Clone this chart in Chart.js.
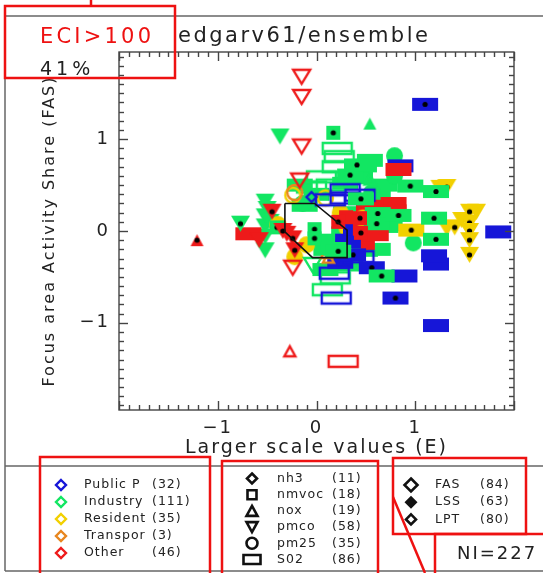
<!DOCTYPE html>
<html>
<head>
<meta charset="utf-8">
<script src="https://cdn.jsdelivr.net/npm/chart.js@4.4.1/dist/chart.umd.min.js"></script>
<style>
  html, body { margin: 0; padding: 0; background: #fff; }
</style>
</head>
<body>
<canvas id="myChart" width="543" height="573"></canvas>
<script>
// axis ranges and labelled ticks
const xRange = [-2, 2];
const yRange = [-1.95, 1.95];
const majorTicks = [-1, 0, 1];

// legend entries
const sectorNames = ['Public P', 'Industry', 'Resident', 'Transpor', 'Other'];
const sectorCounts = [32, 111, 35, 3, 46];
const speciesNames = ['nh3', 'nmvoc', 'nox', 'pmco', 'pm25', 'S02'];
const speciesCounts = [11, 18, 19, 58, 35, 86];
const kindNames = ['FAS', 'LSS', 'LPT'];
const kindCounts = [84, 63, 80];

// outline box drawn on the plot (E, FAS)
const boxLine = [[-0.32, 0.30], [-0.02, 0.30], [0.31, 0.01], [0.31, -0.29], [-0.04, -0.29], [-0.32, -0.01], [-0.32, 0.30]];

// points [E, FAS] per sector / species / kind
const otherPmcoOpen = [[-0.15, 1.68], [-0.15, 1.46], [-0.15, 0.92], [-0.24, -0.40], [-0.17, 0.55]];
const otherNoxOpen = [[-0.27, -1.31]];
const otherSo2Open = [[0.27, -1.42]];
const otherNoxDot = [[-1.21, -0.10]];
const otherPmcoDot = [[-0.45, 0.21], [-0.24, -0.08], [-0.22, -0.21], [-0.34, 0.00]];
const otherPmcoFill = [[-0.58, -0.10], [-0.30, -0.03]];
const otherSo2Fill = [[-0.69, -0.03], [0.83, 0.67], [0.78, 0.30], [0.55, 0.27], [0.50, 0.02], [0.60, -0.04], [0.78, 0.22]];
const otherNmvocDot = [[0.22, 0.10], [0.44, 0.14], [0.45, -0.02]];
const otherNmvocFill = [[0.47, 0.28], [0.30, 0.15], [0.52, -0.13]];

const industryPmcoFill = [[-0.37, 1.03], [-0.52, 0.32], [-0.52, 0.16], [-0.52, 0.05], [-0.52, -0.06], [-0.52, -0.21], [-0.50, 0.24], [-0.47, 0.10]];
const industryPmcoDot = [[-0.77, 0.08]];
const industryPmcoOpen = [[-0.04, -0.37]];
const industrySo2Open = [[0.21, 0.90], [0.23, 0.81], [0.21, 0.70], [0.05, 0.59], [0.15, 0.50], [-0.05, 0.48], [0.19, -0.51], [0.11, -0.64]];
const industrySo2Fill = [[0.29, 0.52], [0.44, 0.58], [0.00, 0.40], [0.30, 0.20], [0.28, -0.02], [0.32, -0.35], [0.62, 0.40], [0.70, 0.05], [0.45, -0.12], [0.10, -0.20], [0.62, -0.20],
  [-0.17, 0.50], [0.54, 0.77], [0.69, 0.50], [0.69, 0.28], [0.74, 0.07], [0.14, -0.10], [0.34, -0.37], [0.09, -0.42], [0.49, -0.21], [-0.12, 0.28]];
const industrySo2Dot = [[0.48, 0.71], [0.34, 0.61], [0.41, 0.72], [0.62, 0.19], [0.61, 0.08], [0.83, 0.17], [0.95, 0.49], [1.21, 0.43], [1.19, 0.14], [1.21, -0.09], [0.66, -0.49], [0.17, -0.19], [0.22, -0.22], [0.45, 0.35]];
const industryNmvocDot = [[0.17, 1.07], [-0.02, 0.02], [-0.02, -0.08], [-0.40, 0.04]];
const industryPm25Fill = [[0.79, 0.82], [0.79, 0.60], [0.98, -0.13], [0.56, 0.42], [-0.14, 0.30]];
const industryNoxFill = [[0.54, 1.17]];
const industryNoxOpen = [[0.54, 0.56]];

const residentPmcoDot = [[1.55, 0.21], [1.55, 0.09], [1.55, 0.00], [1.55, -0.10], [1.55, -0.26], [1.40, 0.04], [1.32, 0.48]];
const residentPmcoFill = [[1.32, 0.03], [1.62, 0.21], [1.25, 0.47], [1.47, 0.12]];
const residentSo2Dot = [[0.96, 0.01]];
const residentPm25Open = [[-0.24, 0.39], [0.09, 0.36], [0.47, 0.14]];
const residentPm25Fill = [[-0.39, 0.07], [-0.10, -0.15], [0.24, 0.20], [0.31, 0.03], [-0.22, -0.28]];

const publicSo2Dot = [[1.10, 1.38], [0.80, -0.73], [0.56, -0.40], [0.37, -0.26]];
const publicSo2Fill = [[0.85, 0.71], [1.84, -0.01], [0.89, -0.49], [1.21, -0.36], [1.19, -0.27], [1.21, -1.03], [0.32, -0.10], [0.40, 0.02], [0.39, -0.12], [0.24, -0.34]];
const publicSo2Open = [[0.20, -0.73], [0.18, -0.46], [0.43, -0.28], [0.29, 0.45], [0.29, 0.36], [0.14, 0.34], [0.44, 0.39]];
const publicNh3Open = [[-0.05, 0.37]];

const transporNoxOpen = [[0.12, -0.29], [0.10, -0.24]];
const transporPm25Open = [[-0.22, 0.42]];

const FONT = 'DejaVu Sans';
const sectorColors = ['#1616d8', '#12e662', '#f2d000', '#e8861e', '#ee1a1a'];

// marker sizes per shape [w, h]
const shapeSize = {
  nh3: [12, 12], nmvoc: [14, 14], nox: [13, 12], pmco: [19, 16], pm25: [17, 17], so2: [26, 13]
};

function shapePath(g, shape, w, h) {
  g.beginPath();
  if (shape === 'nh3') {
    g.moveTo(0, -h / 2); g.lineTo(w / 2, 0); g.lineTo(0, h / 2); g.lineTo(-w / 2, 0); g.closePath();
  } else if (shape === 'nox') {
    g.moveTo(0, -h / 2); g.lineTo(w / 2, h / 2); g.lineTo(-w / 2, h / 2); g.closePath();
  } else if (shape === 'pmco') {
    g.moveTo(-w / 2, -h / 2); g.lineTo(w / 2, -h / 2); g.lineTo(0, h / 2); g.closePath();
  } else if (shape === 'pm25') {
    g.arc(0, 0, w / 2, 0, Math.PI * 2);
  } else {
    g.rect(-w / 2, -h / 2, w, h);
  }
}

function makeMarker(shape, color, kind) {
  let [w, h] = shapeSize[shape];
  if (kind === 'open' && shape === 'so2') w = 31;
  const c = document.createElement('canvas');
  c.width = w + 4; c.height = h + 4;
  const g = c.getContext('2d');
  g.translate(c.width / 2, c.height / 2);
  if (kind === 'open') {
    shapePath(g, shape, w - 2, h - 2);
    g.lineWidth = 2.4; g.strokeStyle = color; g.stroke();
  } else {
    shapePath(g, shape, w, h);
    g.fillStyle = color; g.fill();
  }
  if (kind === 'dot') {
    g.beginPath(); g.arc(0, 0, 2.6, 0, Math.PI * 2); g.fillStyle = '#000'; g.fill();
  }
  return c;
}

// [points, sector index, species, kind]
const series = [
  [otherNoxDot, 4, 'nox', 'dot'], [otherPmcoDot, 4, 'pmco', 'dot'], [otherNmvocDot, 4, 'nmvoc', 'dot'],
  [industryPmcoDot, 1, 'pmco', 'dot'], [industrySo2Dot, 1, 'so2', 'dot'], [industryNmvocDot, 1, 'nmvoc', 'dot'],
  [residentPmcoDot, 2, 'pmco', 'dot'], [residentSo2Dot, 2, 'so2', 'dot'], [publicSo2Dot, 0, 'so2', 'dot'],
  [otherPmcoOpen, 4, 'pmco', 'open'], [otherNoxOpen, 4, 'nox', 'open'], [otherSo2Open, 4, 'so2', 'open'],
  [publicSo2Open, 0, 'so2', 'open'], [publicNh3Open, 0, 'nh3', 'open'],
  [transporNoxOpen, 3, 'nox', 'open'], [transporPm25Open, 3, 'pm25', 'open'],
  [residentPm25Open, 2, 'pm25', 'open'],
  [industryPmcoOpen, 1, 'pmco', 'open'], [industryNoxOpen, 1, 'nox', 'open'], [industrySo2Open, 1, 'so2', 'open'],
  [otherPmcoFill, 4, 'pmco', 'fill'], [otherSo2Fill, 4, 'so2', 'fill'], [otherNmvocFill, 4, 'nmvoc', 'fill'],
  [publicSo2Fill, 0, 'so2', 'fill'], [residentPmcoFill, 2, 'pmco', 'fill'], [residentPm25Fill, 2, 'pm25', 'fill'],
  [industryPm25Fill, 1, 'pm25', 'fill'], [industryNoxFill, 1, 'nox', 'fill'],
  [industryPmcoFill, 1, 'pmco', 'fill'], [industrySo2Fill, 1, 'so2', 'fill']
];

const datasets = [{
  type: 'line',
  data: boxLine.map(p => ({x: p[0], y: p[1]})),
  borderColor: '#111', borderWidth: 1.6, pointRadius: 0, fill: false, tension: 0
}];
series.forEach(function (s) {
  datasets.push({
    data: s[0].map(p => ({x: p[0], y: p[1]})),
    pointStyle: makeMarker(s[2], sectorColors[s[1]], s[3]),
    pointRadius: 5
  });
});

function fmt(v) { return v < 0 ? '\u2212' + Math.abs(v) : String(v); }

function spacedText(ctx, text, x, y, size, color, spacing, align) {
  ctx.save();
  ctx.font = size + 'px "' + FONT + '"';
  ctx.fillStyle = color;
  ctx.letterSpacing = spacing + 'px';
  ctx.textAlign = align || 'left';
  ctx.textBaseline = 'middle';
  ctx.fillText(text, x, y);
  ctx.restore();
}

function line(ctx, x1, y1, x2, y2) {
  ctx.beginPath(); ctx.moveTo(x1, y1); ctx.lineTo(x2, y2); ctx.stroke();
}

// plot box with inward minor (0.1) and major (1) ticks on all four sides
function drawAxesBox(chart) {
  const ctx = chart.ctx, a = chart.chartArea;
  const xs = chart.scales.x, ys = chart.scales.y;
  ctx.save();
  ctx.strokeStyle = '#444';
  ctx.lineWidth = 1.4;
  ctx.strokeRect(a.left, a.top, a.right - a.left, a.bottom - a.top);
  for (let i = Math.ceil(xRange[0] * 10); i <= Math.floor(xRange[1] * 10); i++) {
    const px = Math.round(xs.getPixelForValue(i / 10)) + 0.5;
    const len = i % 10 === 0 ? 9 : 5;
    line(ctx, px, a.bottom, px, a.bottom - len);
    line(ctx, px, a.top, px, a.top + len);
  }
  for (let i = Math.ceil(yRange[0] * 10); i <= Math.floor(yRange[1] * 10); i++) {
    const py = Math.round(ys.getPixelForValue(i / 10)) + 0.5;
    const len = i % 10 === 0 ? 9 : 5;
    line(ctx, a.left, py, a.left + len, py);
    line(ctx, a.right, py, a.right - len, py);
  }
  ctx.restore();
}

const framePlugin = {
  id: 'frame',
  beforeDraw(chart) {
    chart.ctx.letterSpacing = '2px';
  },
  afterDraw(chart) {
    const ctx = chart.ctx;
    drawAxesBox(chart);
    ctx.save();
    // outer frame
    ctx.strokeStyle = '#666';
    ctx.lineWidth = 1.5;
    line(ctx, 5, 16, 543, 16);
    line(ctx, 5, 16, 5, 571);
    line(ctx, 5, 466, 543, 466);
    line(ctx, 5, 571, 543, 571);

    spacedText(ctx, 'edgarv61/ensemble', 178, 37, 21, '#222', 2.5);
    spacedText(ctx, 'ECI>100', 40, 38, 21, '#e11', 3.2);
    spacedText(ctx, '41%', 40, 70, 19, '#222', 4);

    // legend: sectors
    sectorNames.forEach(function (n, i) {
      const y = 485 + i * 17;
      ctx.save(); ctx.translate(61, y);
      shapePath(ctx, 'nh3', 10, 10);
      ctx.lineWidth = 2.4; ctx.strokeStyle = sectorColors[i]; ctx.stroke();
      ctx.restore();
      spacedText(ctx, n, 84, y, 12.5, '#222', 1);
      spacedText(ctx, '(' + sectorCounts[i] + ')', 152, y, 12.5, '#222', 1);
    });
    // legend: species
    const spShapes = ['nh3', 'nmvoc', 'nox', 'pmco', 'pm25', 'so2'];
    const spSizes = [[10, 10], [9, 9], [11, 10], [11, 10], [11, 11], [17, 9]];
    speciesNames.forEach(function (n, i) {
      const y = 478.5 + i * 16.2;
      ctx.save(); ctx.translate(252, y);
      shapePath(ctx, spShapes[i], spSizes[i][0], spSizes[i][1]);
      ctx.lineWidth = 2.6; ctx.strokeStyle = '#111'; ctx.stroke();
      ctx.restore();
      spacedText(ctx, n, 277, y, 12.5, '#222', 1);
      spacedText(ctx, '(' + speciesCounts[i] + ')', 332, y, 12.5, '#222', 1);
    });
    // legend: kinds
    const kSizes = [13, 13, 10];
    kindNames.forEach(function (n, i) {
      const y = 485 + i * 17.2;
      ctx.save(); ctx.translate(411, y);
      shapePath(ctx, 'nh3', kSizes[i], kSizes[i]);
      if (i === 1) { ctx.fillStyle = '#111'; ctx.fill(); }
      else { ctx.lineWidth = 2.6; ctx.strokeStyle = '#111'; ctx.stroke(); }
      ctx.restore();
      spacedText(ctx, n, 435, y, 12.5, '#222', 1);
      spacedText(ctx, '(' + kindCounts[i] + ')', 480, y, 12.5, '#222', 1);
    });
    spacedText(ctx, 'NI=227', 457, 554, 18, '#222', 2);

    // red annotation boxes
    ctx.strokeStyle = '#ee1111';
    ctx.lineWidth = 2.5;
    ctx.strokeRect(5, 6, 170, 72);
    line(ctx, 91, 0, 91, 6);
    ctx.strokeRect(40, 457, 170, 130);
    ctx.strokeRect(222, 461, 156, 130);
    ctx.strokeRect(393, 458, 133, 76);
    ctx.strokeRect(435, 534, 120, 60);
    line(ctx, 393, 497, 425, 573);
    ctx.restore();
  }
};

const config = {
  type: 'scatter',
  data: { datasets: datasets },
  options: {
    responsive: false,
    animation: false,
    devicePixelRatio: 1,
    layout: { padding: { left: 0, top: 52, right: 29, bottom: 111 } },
    plugins: { legend: { display: false }, tooltip: { enabled: false } },
    scales: {
      x: {
        type: 'linear', min: xRange[0], max: xRange[1],
        afterBuildTicks: s => { s.ticks = majorTicks.map(v => ({value: v})); },
        afterFit: s => { s.height = 52; },
        grid: { display: false, drawTicks: false },
        border: { display: false },
        ticks: { padding: 8, color: '#222', font: { family: FONT, size: 18 }, callback: fmt },
        title: { display: true, text: 'Larger scale values (E)', color: '#222',
                 font: { family: FONT, size: 19 }, padding: { top: 0, bottom: 3 } }
      },
      y: {
        type: 'linear', min: yRange[0], max: yRange[1],
        afterBuildTicks: s => { s.ticks = majorTicks.map(v => ({value: v})); },
        afterFit: s => { s.width = 119; },
        grid: { display: false, drawTicks: false },
        border: { display: false },
        ticks: { padding: 9, color: '#222', font: { family: FONT, size: 18 }, callback: fmt },
        title: { display: true, text: 'Focus area Activity Share (FAS)', color: '#222',
                 font: { family: FONT, size: 16 }, padding: { top: 40, bottom: 0 } }
      }
    }
  },
  plugins: [framePlugin]
};

var chart = new Chart('myChart', config);
</script>
</body>
</html>
